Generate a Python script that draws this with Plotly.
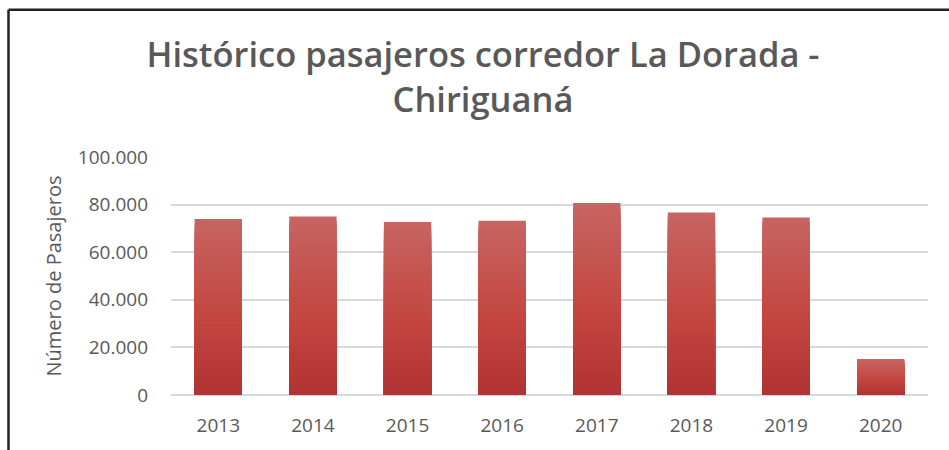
import plotly.graph_objects as go

years = ["2013", "2014", "2015", "2016", "2017", "2018", "2019", "2020"]
pasajeros = [74000, 75000, 72700, 73200, 80700, 76700, 74600, 15100]
y_ticks = [0, 20000, 40000, 60000, 80000, 100000]

title_text = "Histórico pasajeros corredor La Dorada -<br>Chiriguaná"
y_title = "Número de Pasajeros"

W, H = 949, 450
L, R, T, B = 171, 21, 157, 53

top_rgb = (198, 100, 97)
mid_rgb = (196, 70, 64)
bot_rgb = (176, 50, 50)


def interp(c1, c2, t):
    return tuple(round(a + (b - a) * t) for a, b in zip(c1, c2))


def grad_color(t):
    # t: 0 at top of bar, 1 at bottom
    if t < 0.55:
        c = interp(top_rgb, mid_rgb, t / 0.55)
    else:
        c = interp(mid_rgb, bot_rgb, (t - 0.55) / 0.45)
    return "rgb(%d,%d,%d)" % c


fig = go.Figure()
N = 40
for i in range(N):
    frac = 1 - i / N
    fig.add_trace(go.Bar(
        x=years,
        y=[v * frac for v in pasajeros],
        marker=dict(color=grad_color(i / N), line=dict(width=0)),
        hoverinfo="skip" if i else None,
        showlegend=False,
    ))

pw = W - L - R
ph = H - T - B


def px_to_paper_x(px):
    return (px - L) / pw


def px_to_paper_y(py):
    return (H - B - py) / ph


border = dict(color="#222222", width=2.5)
shapes = [
    dict(type="line", xref="paper", yref="paper",
         x0=px_to_paper_x(8.5), x1=px_to_paper_x(W + 5),
         y0=px_to_paper_y(8.5), y1=px_to_paper_y(8.5), line=border),
    dict(type="line", xref="paper", yref="paper",
         x0=px_to_paper_x(8.5), x1=px_to_paper_x(8.5),
         y0=px_to_paper_y(8.5), y1=px_to_paper_y(H + 5), line=border),
]

fig.update_layout(
    width=W, height=H,
    margin=dict(l=L, r=R, t=T, b=B),
    paper_bgcolor="white", plot_bgcolor="white",
    barmode="overlay", bargap=0.5,
    separators=",.",
    font=dict(family="Open Sans", color="#595959"),
    title=dict(text=title_text, x=483 / W, xanchor="center",
               y=1 - 67 / H, yanchor="middle", xref="container", yref="container",
               font=dict(family="Open Sans", size=34.5, color="#595959", weight=600)),
    shapes=shapes,
    showlegend=False,
)

fig.update_xaxes(
    type="category", showgrid=False, showline=False, zeroline=False,
    ticks="", tickfont=dict(size=19, color="#595959"),
    ticklabelstandoff=17,
)
fig.update_yaxes(
    range=[0, 100000], tickvals=y_ticks, tickformat=",d",
    showgrid=True, gridcolor="#d9d9d9", gridwidth=1.5,
    zeroline=True, zerolinecolor="#d9d9d9", zerolinewidth=1.5,
    showline=False, ticks="",
    tickfont=dict(size=19, color="#595959"),
    ticklabelstandoff=22,
    title=dict(text=y_title, font=dict(size=20, color="#595959"), standoff=10),
)

fig.write_html("out.html")
